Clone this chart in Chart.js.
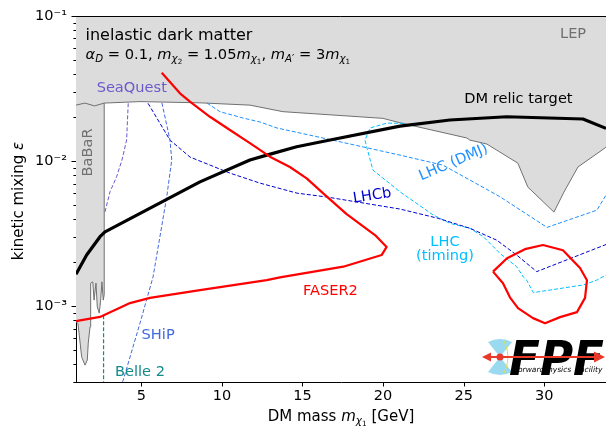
<!DOCTYPE html>
<html><head><meta charset="utf-8">
<script src="https://cdn.jsdelivr.net/npm/chart.js@4/dist/chart.umd.min.js"></script>
<style>html,body{margin:0;padding:0;background:#fff;}#wrap{width:606px;height:427px;position:relative;}</style>
</head><body><div id="wrap"><canvas id="c" width="606" height="427"></canvas></div>
<script>
// ---------- axis ranges and ticks ----------
const xRange = [0.95, 33.83];
const yRange = [3e-4, 1e-1];
const xTicks = [5, 10, 15, 20, 25, 30];
const yDecades = [-4, -3, -2, -1];

// ---------- excluded region (BaBaR strip + LEP/top band) ----------
const grayX = [0.95, 1.07, 1.30, 1.51, 1.65, 1.71, 1.82, 1.86, 1.99, 2.07, 2.19, 2.27, 2.39, 2.48, 2.56, 2.64, 2.70, 2.70, 4.92, 8.64, 11.74, 13.79, 19.99, 21.05, 25.20, 25.38, 26.44, 28.36, 28.98, 30.60, 31.22, 32.09, 33.76, 33.83];
const grayY = [7.8e-4, 7.64e-4, 4.47e-4, 3.92e-4, 4.25e-4, 5.56e-4, 7.19e-4, 1.44e-3, 1.47e-3, 1.10e-3, 1.44e-3, 9.89e-4, 8.95e-4, 1.10e-3, 1.47e-3, 1.10e-3, 1.2e-3, 0.0251, 0.0257, 0.0252, 0.0243, 0.0219, 0.0197, 0.01836, 0.01442, 0.01396, 0.0131, 0.00968, 0.00662, 0.00445, 0.00611, 0.0091, 0.0123, 0.0125];
const topEdgeX = [0.95, 1.5, 2.1, 2.7];
const topEdgeY = [0.0243, 0.0251, 0.0240, 0.0251];

// ---------- DM relic target ----------
const relicX = [0.95, 1.61, 2.44, 2.75, 8.64, 11.74, 12.78, 14.64, 16.71, 21.05, 24.15, 27.67, 32.40, 33.83];
const relicY = [1.66e-3, 2.25e-3, 3.01e-3, 3.25e-3, 7.19e-3, 0.01016, 0.01099, 0.01256, 0.01396, 0.0174, 0.0192, 0.0202, 0.0195, 0.0168];

// ---------- FASER2 contours ----------
const faserX = [6.27, 7.40, 8.02, 9.26, 10.50, 11.74, 12.98, 14.22, 15.26, 16.27, 17.74, 19.50, 20.22, 19.91, 17.53, 13.60, 12.78, 8.64, 5.54, 4.30, 2.44, 1.03, 0.95];
const faserY = [0.0406, 0.0293, 0.0257, 0.0202, 0.01637, 0.0133, 0.01072, 0.0091, 0.0076, 0.00601, 0.00431, 0.00309, 0.00256, 0.00225, 0.00187, 0.00158, 0.00151, 0.00129, 0.00114, 0.00105, 8.43e-4, 7.92e-4, 7.9e-4];
const faserIslandX = [26.82, 27.69, 28.80, 29.92, 31.16, 32.22, 32.65, 32.53, 32.03, 30.98, 30.05, 29.30, 28.37, 27.87, 27.44, 26.82];
const faserIslandY = [0.00173, 0.00214, 0.00247, 0.00264, 0.00243, 0.00183, 0.00151, 0.00114, 9.1e-4, 8.4e-4, 7.63e-4, 8.27e-4, 9.68e-4, 1.15e-3, 1.44e-3, 0.00173];

// ---------- other experiments ----------
const seaquestX = [4.19, 4.09, 3.80, 3.47, 3.06, 2.75];
const seaquestY = [0.0250, 0.01396, 0.01016, 0.0078, 0.00614, 0.00447];
const shipX = [6.28, 6.78, 6.89, 6.58, 5.73, 4.92, 3.86, 3.80];
const shipY = [0.0252, 0.01396, 0.01016, 0.00568, 0.00159, 7.63e-4, 3.04e-4, 3.0e-4];
const lhcbX = [5.42, 6.78, 8.02, 10.50, 12.36, 14.66, 16.52, 21.05, 23.42, 25.39, 27.05, 28.29, 29.53, 33.76, 33.83];
const lhcbY = [0.0250, 0.01396, 0.01066, 0.00826, 0.00705, 0.00601, 0.00565, 0.00467, 0.00403, 0.00344, 0.00285, 0.00225, 0.00173, 0.00264, 0.00266];
const dmjX = [9.08, 9.88, 11.31, 12.36, 13.42, 16.27, 21.05, 23.72, 27.25, 30.17, 33.27, 33.64, 33.83];
const dmjY = [0.0251, 0.0219, 0.0198, 0.0186, 0.0169, 0.01442, 0.01099, 0.00937, 0.00568, 0.00349, 0.00459, 0.00538, 0.00583];
const timingX = [21.3, 20.24, 19.19, 18.88, 18.98, 19.37, 21.05, 23.11, 24.15, 25.39, 26.22, 27.25, 28.29, 28.70, 28.91, 29.32, 32.42, 33.25, 33.83];
const timingY = [0.0182, 0.01827, 0.0169, 0.01396, 0.01256, 0.00867, 0.00614, 0.00425, 0.00372, 0.00344, 0.00301, 0.00231, 0.00187, 0.00159, 0.00151, 0.00124, 0.00140, 0.00151, 0.00164];
const belleX = [2.66, 2.66];
const belleY = [8.67e-4, 3.0e-4];

// ---------- annotation texts (anchored in data coordinates) ----------
const notes = [
  {t: 'SeaQuest', x: 2.23, y: 0.0298, c: '#6a5acd'},
  {t: 'LEP', x: 32.6, y: 0.0702, c: '#707070', align: 'right'},
  {t: 'DM relic target', x: 25.04, y: 0.0250, c: '#000000'},
  {t: 'FASER2', x: 15.03, y: 0.00119, c: '#ff0000'},
  {t: 'SHiP', x: 5.02, y: 5.98e-4, c: '#4169e1'},
  {t: 'Belle 2', x: 3.37, y: 3.30e-4, c: '#148a8a'},
  {t: 'LHC', x: 23.84, y: 0.00259, c: '#00bfff', align: 'center'},
  {t: '(timing)', x: 23.84, y: 0.00207, c: '#00bfff', align: 'center'},
  {t: 'BaBaR', x: 1.92, y: 0.01146, c: '#707070', align: 'center', rot: -90},
  {t: 'LHC (DMJ)', x: 24.37, y: 0.00977, c: '#1e90ff', align: 'center', mid: true, rot: -23},
  {t: 'LHCb', x: 19.33, y: 0.00574, c: '#0000cd', align: 'center', mid: true, rot: -9}
];

const zip = (xs, ys) => xs.map((v, i) => ({x: v, y: ys[i]}));
const ds = (xs, ys, color, width, dash, extra) => Object.assign({
  data: zip(xs, ys), borderColor: color, borderWidth: width, borderDash: dash || [],
  pointRadius: 0, fill: false, tension: 0, order: 1, borderJoinStyle: 'round', borderCapStyle: 'butt'
}, extra || {});

const FONT = '"DejaVu Sans", Verdana, sans-serif';

function richWidth(ctx, parts, size) { return drawRich(ctx, 0, 0, parts, size, true); }
function drawRich(ctx, x, y, parts, size, measureOnly) {
  let cx = x;
  for (const p of parts) {
    const s = p.sub2 ? size * 0.49 : (p.sub ? size * 0.7 : size);
    const dy = p.sub2 ? size * 0.36 : (p.sub ? size * 0.2 : 0);
    ctx.font = (p.it ? 'italic ' : '') + s + 'px ' + FONT;
    if (!measureOnly) ctx.fillText(p.t, cx, y + dy);
    cx += ctx.measureText(p.t).width;
  }
  return cx - x;
}

const mathLine = [
  {t: 'α', it: 1}, {t: 'D', it: 1, sub: 1}, {t: ' = 0.1, '},
  {t: 'm', it: 1}, {t: 'χ', it: 1, sub: 1}, {t: '2', sub2: 1}, {t: ' = 1.05'},
  {t: 'm', it: 1}, {t: 'χ', it: 1, sub: 1}, {t: '1', sub2: 1}, {t: ', '},
  {t: 'm', it: 1}, {t: 'A′', it: 1, sub: 1}, {t: ' = 3'},
  {t: 'm', it: 1}, {t: 'χ', it: 1, sub: 1}, {t: '1', sub2: 1}
];
const xTitle = [{t: 'DM mass '}, {t: 'm', it: 1}, {t: 'χ', it: 1, sub: 1}, {t: '1', sub2: 1}, {t: ' [GeV]'}];
const yTitle = [{t: 'kinetic mixing '}, {t: 'ε', it: 1}];

const decor = {
  id: 'decor',
  afterDraw(chart) {
    const {ctx, chartArea: ca, scales: {x, y}} = chart;
    ctx.save();
    // top spine
    ctx.strokeStyle = '#000'; ctx.lineWidth = 1;
    ctx.beginPath(); ctx.moveTo(ca.left - 0.5, Math.round(ca.top) + 0.5); ctx.lineTo(ca.right, Math.round(ca.top) + 0.5); ctx.stroke();
    // tick marks
    ctx.beginPath();
    for (const t of y.ticks) {
      const py = Math.round(y.getPixelForValue(t.value)) + 0.5;
      const lg = Math.log10(t.value);
      const len = Math.abs(lg - Math.round(lg)) < 1e-9 ? 4.5 : 2.6;
      ctx.moveTo(ca.left - len, py); ctx.lineTo(ca.left, py);
    }
    for (const t of x.ticks) {
      const pxx = Math.round(x.getPixelForValue(t.value)) + 0.5;
      ctx.moveTo(pxx, ca.bottom); ctx.lineTo(pxx, ca.bottom + 4.5);
    }
    ctx.stroke();

    // annotations
    for (const n of notes) {
      const px = x.getPixelForValue(n.x), py = y.getPixelForValue(n.y);
      ctx.save();
      ctx.translate(px, py);
      if (n.rot) ctx.rotate(n.rot * Math.PI / 180);
      ctx.font = '14.6px ' + FONT;
      ctx.fillStyle = n.c;
      ctx.textAlign = n.align || 'left';
      ctx.textBaseline = n.mid ? 'middle' : 'alphabetic';
      ctx.fillText(n.t, 0, 0);
      ctx.restore();
    }
    // title block
    ctx.fillStyle = '#000'; ctx.textAlign = 'left'; ctx.textBaseline = 'alphabetic';
    const tx = x.getPixelForValue(1.54);
    ctx.font = '16px ' + FONT;
    ctx.fillText('inelastic dark matter', tx, y.getPixelForValue(0.0683));
    let w = richWidth(ctx, mathLine, 14);
    drawRich(ctx, tx, y.getPixelForValue(0.0505), mathLine, 14 * 265 / w);

    // axis titles
    const xs = 15;
    w = richWidth(ctx, xTitle, xs);
    drawRich(ctx, (ca.left + ca.right) / 2 - w / 2, 421, xTitle, xs);
    w = richWidth(ctx, yTitle, xs);
    ctx.save();
    ctx.translate(23, (ca.top + ca.bottom) / 2 + 2);
    ctx.rotate(-Math.PI / 2);
    drawRich(ctx, -w / 2, 0, yTitle, xs);
    ctx.restore();

    // FPF logo (inset, bottom-right)
    const R = ca.right, B = ca.bottom;
    const cx = R - 106, cy = B - 25;
    ctx.fillStyle = 'rgba(120,205,235,0.75)';
    ctx.beginPath(); ctx.moveTo(cx, cy); ctx.lineTo(cx - 12, cy - 15);
    ctx.quadraticCurveTo(cx, cy - 21, cx + 12, cy - 15); ctx.closePath(); ctx.fill();
    ctx.beginPath(); ctx.moveTo(cx, cy); ctx.lineTo(cx - 12, cy + 15);
    ctx.quadraticCurveTo(cx, cy + 21, cx + 12, cy + 15); ctx.closePath(); ctx.fill();
    ctx.strokeStyle = '#d8e04a'; ctx.lineWidth = 1;
    ctx.beginPath(); ctx.moveTo(cx + 4, cy - 16); ctx.quadraticCurveTo(cx + 12, cy, cx + 4, cy + 16); ctx.stroke();
    ctx.fillStyle = '#000';
    ctx.font = 'italic bold 48px ' + FONT;
    const fw = ctx.measureText('FPF').width;
    ctx.save();
    ctx.translate(R - 97, B - 7);
    ctx.scale(95 / fw, 1);
    ctx.fillText('FPF', 0, 0);
    ctx.restore();
    ctx.font = 'italic 7.5px ' + FONT;
    ctx.fillText('orward', R - 88, B - 10);
    ctx.fillText('hysics', R - 58, B - 10);
    ctx.fillText('acility', R - 26, B - 10);
    ctx.strokeStyle = '#e8392b'; ctx.fillStyle = '#e8392b'; ctx.lineWidth = 2;
    ctx.beginPath(); ctx.moveTo(R - 122, cy); ctx.lineTo(R - 8, cy); ctx.stroke();
    ctx.beginPath(); ctx.moveTo(R - 124, cy); ctx.lineTo(R - 115, cy - 4.5); ctx.lineTo(R - 115, cy + 4.5); ctx.closePath(); ctx.fill();
    ctx.beginPath(); ctx.moveTo(R - 1, cy); ctx.lineTo(R - 12, cy - 5.5); ctx.lineTo(R - 12, cy + 5.5); ctx.closePath(); ctx.fill();
    ctx.beginPath(); ctx.arc(cx, cy, 3.5, 0, Math.PI * 2); ctx.fill();
    ctx.restore();
  }
};

const supMap = {'-': '⁻', '0': '⁰', '1': '¹', '2': '²', '3': '³', '4': '⁴'};
const sup = e => String(e).split('').map(ch => supMap[ch]).join('');

new Chart(document.getElementById('c'), {
  type: 'line',
  data: {
    datasets: [
      ds(grayX, grayY, '#707070', 1, [], {fill: 'end', backgroundColor: '#dcdcdc', order: 10}),
      ds(topEdgeX, topEdgeY, '#707070', 1, [], {order: 9}),
      ds(seaquestX, seaquestY, '#6a5acd', 1, [4, 2]),
      ds(shipX, shipY, '#4169e1', 1, [4, 2]),
      ds(lhcbX, lhcbY, '#0000cd', 1, [4, 2]),
      ds(dmjX, dmjY, '#1e90ff', 1, [4, 2]),
      ds(timingX, timingY, '#00bfff', 1, [4, 2]),
      ds(belleX, belleY, '#148a8a', 1.2, [4, 2]),
      ds(faserX, faserY, '#ff0000', 2.2, [], {order: 0}),
      ds(faserIslandX, faserIslandY, '#ff0000', 2.2, [], {order: 0}),
      ds(relicX, relicY, '#000000', 3.2, [], {order: 0})
    ]
  },
  options: {
    responsive: false, animation: false, devicePixelRatio: 1, events: [],
    layout: {padding: {top: 16, left: 0, right: 0, bottom: 0}},
    plugins: {legend: {display: false}, tooltip: {enabled: false}},
    scales: {
      x: {
        type: 'linear', min: xRange[0], max: xRange[1],
        afterBuildTicks: s => { s.ticks = xTicks.map(v => ({value: v})); },
        afterFit: s => { s.height = 45; },
        grid: {display: true, drawOnChartArea: false, drawTicks: true, tickLength: 4, tickColor: 'rgba(0,0,0,0)'},
        border: {display: true, color: '#000', width: 1},
        ticks: {color: '#000', font: {family: 'DejaVu Sans', size: 14.5}, padding: 2, maxRotation: 0, autoSkip: false, callback: v => String(v)}
      },
      y: {
        type: 'logarithmic', min: yRange[0], max: yRange[1],
        afterBuildTicks: s => {
          const t = [];
          for (const e of yDecades) for (let m = 1; m <= 9; m++) {
            const v = m * Math.pow(10, e);
            if (v >= yRange[0] * 0.999 && v <= yRange[1] * 1.001) t.push({value: v, major: m === 1});
          }
          s.ticks = t;
        },
        afterFit: s => { s.width = 76; },
        grid: {display: true, drawOnChartArea: false, drawTicks: true, tickLength: 4, tickColor: 'rgba(0,0,0,0)'},
        border: {display: true, color: '#000', width: 1},
        ticks: {color: '#000', font: {family: 'DejaVu Sans', size: 14.5}, padding: 5, autoSkip: false,
          callback: v => { const e = Math.round(Math.log10(v)); return Math.abs(Math.log10(v) - e) < 1e-9 ? '10' + sup(e) : ''; }}
      }
    }
  },
  plugins: [decor]
});
</script></body></html>
